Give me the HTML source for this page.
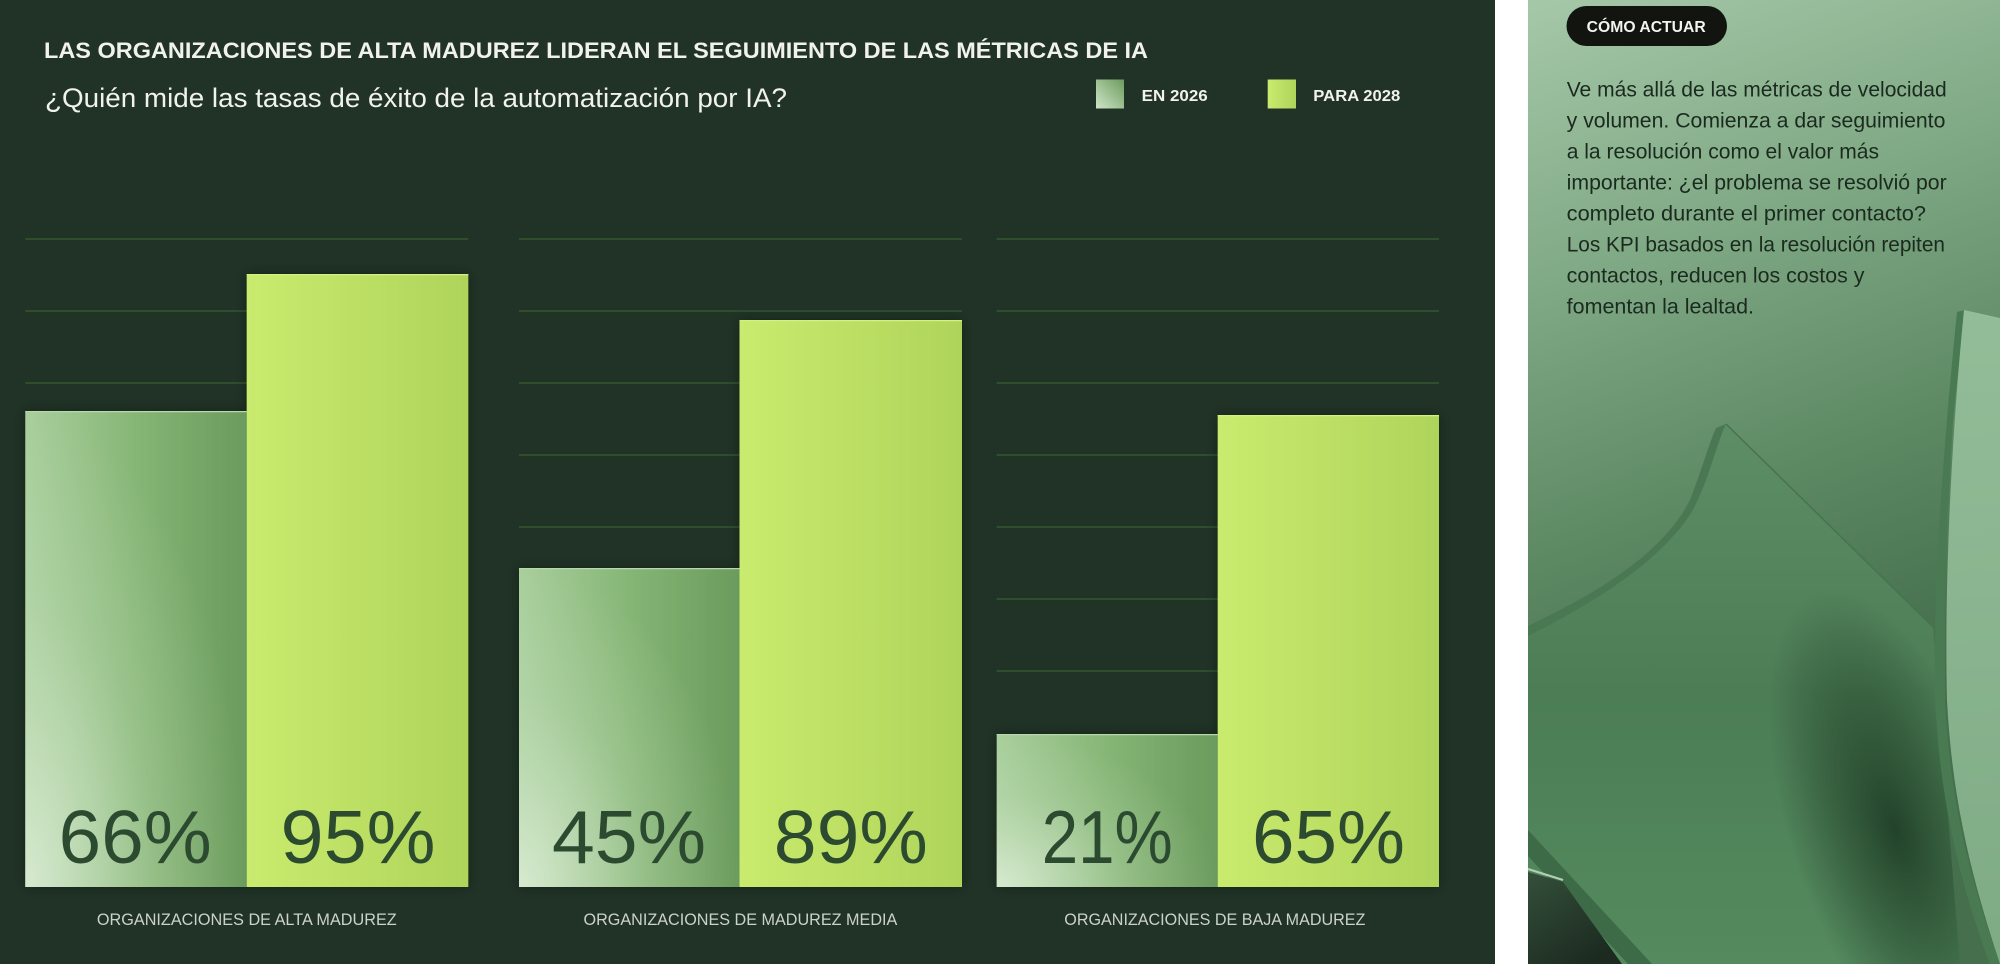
<!DOCTYPE html>
<html>
<head>
<meta charset="utf-8">
<style>
  html, body { margin: 0; padding: 0; background: #ffffff; width: 2000px; height: 964px; overflow: hidden; }
  svg { display: block; overflow: hidden; }
  text { font-family: "Liberation Sans", sans-serif; }
</style>
</head>
<body>
<svg width="2000" height="964" viewBox="0 0 2000 964" xmlns="http://www.w3.org/2000/svg">
  <defs>
    <linearGradient id="g26" x1="0" y1="0" x2="1" y2="0">
      <stop offset="0" stop-color="#a9cf9d"/>
      <stop offset="0.5" stop-color="#86b676"/>
      <stop offset="1" stop-color="#6b9b5d"/>
    </linearGradient>
    <radialGradient id="g26hl" cx="0" cy="1" r="1">
      <stop offset="0" stop-color="#e2f0dc" stop-opacity="0.8"/>
      <stop offset="0.6" stop-color="#d0e6c8" stop-opacity="0.22"/>
      <stop offset="1" stop-color="#d0e6c8" stop-opacity="0"/>
    </radialGradient>
    <linearGradient id="g28" x1="0" y1="0" x2="1" y2="0">
      <stop offset="0" stop-color="#c9eb6e"/>
      <stop offset="1" stop-color="#afd45a"/>
    </linearGradient>
    <linearGradient id="leg26" x1="0" y1="1" x2="1" y2="0">
      <stop offset="0" stop-color="#cfe5c8"/>
      <stop offset="1" stop-color="#6c9c5e"/>
    </linearGradient>
    <filter id="sh" x="-10%" y="-10%" width="120%" height="120%">
      <feDropShadow dx="0" dy="0" stdDeviation="6" flood-color="#000" flood-opacity="0.35"/>
    </filter>
    <linearGradient id="rpbg" gradientUnits="userSpaceOnUse" x1="1560" y1="0" x2="1820" y2="700">
      <stop offset="0" stop-color="#a4c7a7"/>
      <stop offset="0.35" stop-color="#80a985"/>
      <stop offset="0.7" stop-color="#5c8862"/>
      <stop offset="1" stop-color="#456f4d"/>
    </linearGradient>
    <linearGradient id="sheet" gradientUnits="userSpaceOnUse" x1="1700" y1="420" x2="1700" y2="964">
      <stop offset="0" stop-color="#5e8e65"/>
      <stop offset="0.5" stop-color="#4c7d55"/>
      <stop offset="1" stop-color="#548a5e"/>
    </linearGradient>
    <radialGradient id="shadowg" gradientUnits="userSpaceOnUse" cx="1895" cy="830" r="250"
      gradientTransform="translate(1895 830) rotate(-18) scale(0.42 1) translate(-1895 -830)">
      <stop offset="0" stop-color="#17331e" stop-opacity="0.8"/>
      <stop offset="0.55" stop-color="#1a3621" stop-opacity="0.4"/>
      <stop offset="1" stop-color="#1a3621" stop-opacity="0"/>
    </radialGradient>
    <linearGradient id="piece" gradientUnits="userSpaceOnUse" x1="1960" y1="310" x2="1990" y2="964">
      <stop offset="0" stop-color="#93bd98"/>
      <stop offset="1" stop-color="#7eaa84"/>
    </linearGradient>
    <linearGradient id="darkcorner" gradientUnits="userSpaceOnUse" x1="1528" y1="870" x2="1590" y2="964">
      <stop offset="0" stop-color="#34503b"/>
      <stop offset="1" stop-color="#1c2a20"/>
    </linearGradient>
    <clipPath id="sheetclip">
      <path d="M1528,636 C1600,600 1660,560 1690,515 C1708,485 1716,445 1726,424 L1933,627 L1960,964 L1528,964 Z"/>
    </clipPath>
  </defs>

  <!-- main dark panel -->
  <rect x="0" y="0" width="1495" height="964" fill="#203326"/>

  <!-- titles -->
  <text x="44" y="58" font-size="22" font-weight="bold" fill="#f2f2ec" textLength="1104" lengthAdjust="spacingAndGlyphs">LAS ORGANIZACIONES DE ALTA MADUREZ LIDERAN EL SEGUIMIENTO DE LAS MÉTRICAS DE IA</text>
  <text x="45" y="107" font-size="27" fill="#f2f2ec" textLength="742" lengthAdjust="spacingAndGlyphs">¿Quién mide las tasas de éxito de la automatización por IA?</text>

  <!-- legend -->
  <rect x="1096" y="79.5" width="28" height="29" fill="url(#leg26)"/>
  <text x="1141.7" y="101" font-size="16" font-weight="bold" fill="#f2f2ec" textLength="66" lengthAdjust="spacingAndGlyphs">EN 2026</text>
  <rect x="1267.7" y="79.5" width="28.3" height="29" fill="url(#g28)"/>
  <text x="1313.3" y="101" font-size="16" font-weight="bold" fill="#f2f2ec" textLength="87" lengthAdjust="spacingAndGlyphs">PARA 2028</text>

  <!-- gridlines -->
  <g stroke="#33572f" stroke-width="1.6">
    <line x1="25.3" x2="468.3" y1="239" y2="239"/>
    <line x1="25.3" x2="468.3" y1="311" y2="311"/>
    <line x1="25.3" x2="468.3" y1="383" y2="383"/>
    <line x1="519" x2="962" y1="239" y2="239"/>
    <line x1="519" x2="962" y1="311" y2="311"/>
    <line x1="519" x2="962" y1="383" y2="383"/>
    <line x1="519" x2="962" y1="455" y2="455"/>
    <line x1="519" x2="962" y1="527" y2="527"/>
    <line x1="996.7" x2="1439" y1="239" y2="239"/>
    <line x1="996.7" x2="1439" y1="311" y2="311"/>
    <line x1="996.7" x2="1439" y1="383" y2="383"/>
    <line x1="996.7" x2="1439" y1="455" y2="455"/>
    <line x1="996.7" x2="1439" y1="527" y2="527"/>
    <line x1="996.7" x2="1439" y1="599" y2="599"/>
    <line x1="996.7" x2="1439" y1="671" y2="671"/>
  </g>

  <!-- bars -->
  <g filter="url(#sh)">
    <rect x="25.3" y="411" width="221.4" height="476" fill="url(#g26)"/>
    <rect x="246.7" y="274" width="221.6" height="613" fill="url(#g28)"/>
    <rect x="519" y="568" width="220.5" height="319" fill="url(#g26)"/>
    <rect x="739.5" y="320" width="222.5" height="567" fill="url(#g28)"/>
    <rect x="996.7" y="734" width="221" height="153" fill="url(#g26)"/>
    <rect x="1217.7" y="415" width="221.3" height="472" fill="url(#g28)"/>
  </g>
  <rect x="25.3" y="411" width="221.4" height="476" fill="url(#g26hl)"/>
  <rect x="519" y="568" width="220.5" height="319" fill="url(#g26hl)"/>
  <rect x="996.7" y="734" width="221" height="153" fill="url(#g26hl)"/>
  <g stroke-width="1.2">
    <line x1="25.3" x2="246.7" y1="411.6" y2="411.6" stroke="#b6d8aa"/>
    <line x1="246.7" x2="468.3" y1="274.6" y2="274.6" stroke="#d4f07e"/>
    <line x1="519" x2="739.5" y1="568.6" y2="568.6" stroke="#b6d8aa"/>
    <line x1="739.5" x2="962" y1="320.6" y2="320.6" stroke="#d4f07e"/>
    <line x1="996.7" x2="1217.7" y1="734.6" y2="734.6" stroke="#b6d8aa"/>
    <line x1="1217.7" x2="1439" y1="415.6" y2="415.6" stroke="#d4f07e"/>
  </g>

  <!-- percent labels -->
  <g font-size="75" fill="#2c4a30" text-anchor="middle">
    <text x="135.2" y="863" textLength="153" lengthAdjust="spacingAndGlyphs">66%</text>
    <text x="358" y="863" textLength="155" lengthAdjust="spacingAndGlyphs">95%</text>
    <text x="629" y="863" textLength="154" lengthAdjust="spacingAndGlyphs">45%</text>
    <text x="850.8" y="863" textLength="154" lengthAdjust="spacingAndGlyphs">89%</text>
    <text x="1107.2" y="863" textLength="131" lengthAdjust="spacingAndGlyphs">21%</text>
    <text x="1328.5" y="863" textLength="153" lengthAdjust="spacingAndGlyphs">65%</text>
  </g>

  <!-- category labels -->
  <g font-size="16.5" fill="#cbd2c9">
    <text x="96.9" y="925" textLength="299.8" lengthAdjust="spacingAndGlyphs">ORGANIZACIONES DE ALTA MADUREZ</text>
    <text x="583.5" y="925" textLength="313.8" lengthAdjust="spacingAndGlyphs">ORGANIZACIONES DE MADUREZ MEDIA</text>
    <text x="1064.3" y="925" textLength="301.1" lengthAdjust="spacingAndGlyphs">ORGANIZACIONES DE BAJA MADUREZ</text>
  </g>

  <!-- white gap -->
  <rect x="1495" y="0" width="33" height="964" fill="#ffffff"/>

  <!-- right panel -->
  <rect x="1528" y="0" width="472" height="964" fill="url(#rpbg)"/>

  <!-- main sheet rim (thickness) -->
  <path d="M1716,428 C1708,446 1702,470 1690,500 C1664,552 1600,592 1528,626 L1528,640 C1600,604 1660,562 1690,515 C1708,485 1716,445 1726,424 Z" fill="#4a7852"/>
  <!-- main sheet -->
  <path d="M1528,636 C1600,600 1660,560 1690,515 C1708,485 1716,445 1726,424 L1933,627 L1960,964 L1528,964 Z" fill="url(#sheet)"/>
  <!-- shadow on sheet -->
  <rect x="1620" y="560" width="340" height="404" fill="url(#shadowg)" clip-path="url(#sheetclip)"/>
  <!-- sheet right edge line -->
  <line x1="1726" y1="424" x2="1933" y2="627" stroke="#46744f" stroke-width="1.5"/>

  <!-- bottom-left corner: edge band + dark region -->
  <path d="M1528,830 L1652,964 L1628,964 L1528,856 Z" fill="#3d6b47"/>
  <path d="M1528,872 L1563,882 L1622,964 L1528,964 Z" fill="url(#darkcorner)"/>
  <line x1="1528" y1="869" x2="1563" y2="880" stroke="#b4d0b4" stroke-width="2"/>

  <!-- right curved piece rim -->
  <path d="M1957,312 L1965,310 L1953,420 L1945,560 L1945,700 C1950,800 1970,880 2000,964 L1990,964 C1958,880 1938,790 1935,690 C1933,580 1945,430 1957,312 Z" fill="#4a7a52"/>
  <!-- right curved piece face -->
  <path d="M1964,310 L2000,318 L2000,964 C1972,880 1952,800 1947,700 C1944,580 1952,430 1964,310 Z" fill="url(#piece)"/>

  <!-- button -->
  <rect x="1566.5" y="6" width="160.5" height="40" rx="20" ry="20" fill="#12140f"/>
  <text x="1586.7" y="32" font-size="15.5" font-weight="bold" fill="#f4f4ee" textLength="119" lengthAdjust="spacingAndGlyphs">CÓMO ACTUAR</text>

  <!-- paragraph -->
  <g font-size="21" fill="#1b2a1f">
    <text x="1566.7" y="96.5" textLength="380" lengthAdjust="spacingAndGlyphs">Ve más allá de las métricas de velocidad</text>
    <text x="1566.7" y="127.5" textLength="378.7" lengthAdjust="spacingAndGlyphs">y volumen. Comienza a dar seguimiento</text>
    <text x="1566.7" y="158.5" textLength="312.3" lengthAdjust="spacingAndGlyphs">a la resolución como el valor más</text>
    <text x="1566.7" y="189.5" textLength="380" lengthAdjust="spacingAndGlyphs">importante: ¿el problema se resolvió por</text>
    <text x="1566.7" y="220.5" textLength="359.3" lengthAdjust="spacingAndGlyphs">completo durante el primer contacto?</text>
    <text x="1566.7" y="251.5" textLength="378.3" lengthAdjust="spacingAndGlyphs">Los KPI basados en la resolución repiten</text>
    <text x="1566.7" y="282.5" textLength="297.7" lengthAdjust="spacingAndGlyphs">contactos, reducen los costos y</text>
    <text x="1566.7" y="313.5" textLength="187.3" lengthAdjust="spacingAndGlyphs">fomentan la lealtad.</text>
  </g>
</svg>
</body>
</html>
